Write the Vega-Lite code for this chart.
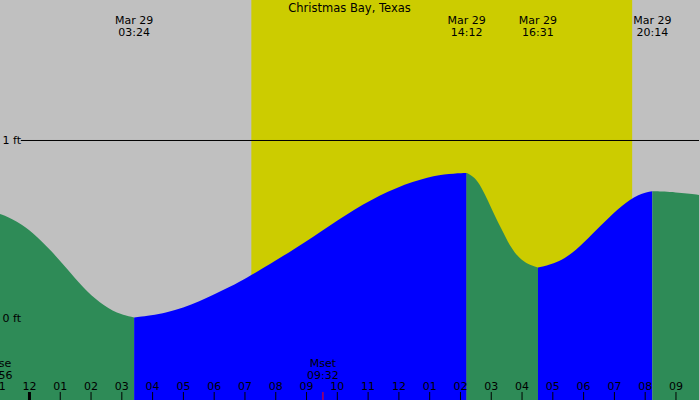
{
  "$schema": "https://vega.github.io/schema/vega-lite/v6.json",
  "width": 700,
  "height": 400,
  "autosize": {"type": "fit", "contains": "padding"},
  "padding": 0,
  "background": "#c0c0c0",
  "config": {"view": {"stroke": null}, "font": "DejaVu Sans"},
  "datasets": {
    "bands": [
      {"start": -1.2, "end": 7.207, "period": "night"},
      {"start": 7.207, "end": 19.585, "period": "day"},
      {"start": 19.585, "end": 22.0, "period": "night"}
    ],
    "tide": [
      {"h": -1.2, "ft": 0.602, "phase": "falling", "seg": 1},
      {"h": -0.957, "ft": 0.588, "phase": "falling", "seg": 1},
      {"h": -0.405, "ft": 0.548, "phase": "falling", "seg": 1},
      {"h": 0.114, "ft": 0.483, "phase": "falling", "seg": 1},
      {"h": 0.665, "ft": 0.388, "phase": "falling", "seg": 1},
      {"h": 1.216, "ft": 0.281, "phase": "falling", "seg": 1},
      {"h": 1.735, "ft": 0.174, "phase": "falling", "seg": 1},
      {"h": 2.287, "ft": 0.087, "phase": "falling", "seg": 1},
      {"h": 2.838, "ft": 0.028, "phase": "falling", "seg": 1},
      {"h": 3.4, "ft": 0.006, "phase": "falling", "seg": 1},
      {"h": 3.4, "ft": 0.006, "phase": "rising", "seg": 2},
      {"h": 4.46, "ft": 0.028, "phase": "rising", "seg": 2},
      {"h": 5.53, "ft": 0.095, "phase": "rising", "seg": 2},
      {"h": 6.5, "ft": 0.176, "phase": "rising", "seg": 2},
      {"h": 7.21, "ft": 0.243, "phase": "rising", "seg": 2},
      {"h": 8.68, "ft": 0.397, "phase": "rising", "seg": 2},
      {"h": 9.75, "ft": 0.522, "phase": "rising", "seg": 2},
      {"h": 10.82, "ft": 0.644, "phase": "rising", "seg": 2},
      {"h": 11.92, "ft": 0.738, "phase": "rising", "seg": 2},
      {"h": 12.99, "ft": 0.798, "phase": "rising", "seg": 2},
      {"h": 13.64, "ft": 0.813, "phase": "rising", "seg": 2},
      {"h": 14.2, "ft": 0.818, "phase": "rising", "seg": 2},
      {"h": 14.2, "ft": 0.818, "phase": "falling", "seg": 3},
      {"h": 14.46, "ft": 0.794, "phase": "falling", "seg": 3},
      {"h": 14.68, "ft": 0.738, "phase": "falling", "seg": 3},
      {"h": 14.89, "ft": 0.663, "phase": "falling", "seg": 3},
      {"h": 15.11, "ft": 0.579, "phase": "falling", "seg": 3},
      {"h": 15.33, "ft": 0.504, "phase": "falling", "seg": 3},
      {"h": 15.54, "ft": 0.429, "phase": "falling", "seg": 3},
      {"h": 15.76, "ft": 0.369, "phase": "falling", "seg": 3},
      {"h": 15.97, "ft": 0.331, "phase": "falling", "seg": 3},
      {"h": 16.19, "ft": 0.305, "phase": "falling", "seg": 3},
      {"h": 16.517, "ft": 0.286, "phase": "falling", "seg": 3},
      {"h": 16.517, "ft": 0.286, "phase": "rising", "seg": 4},
      {"h": 17.21, "ft": 0.316, "phase": "rising", "seg": 4},
      {"h": 17.75, "ft": 0.382, "phase": "rising", "seg": 4},
      {"h": 18.29, "ft": 0.476, "phase": "rising", "seg": 4},
      {"h": 18.83, "ft": 0.569, "phase": "rising", "seg": 4},
      {"h": 19.37, "ft": 0.655, "phase": "rising", "seg": 4},
      {"h": 19.91, "ft": 0.706, "phase": "rising", "seg": 4},
      {"h": 20.233, "ft": 0.715, "phase": "rising", "seg": 4},
      {"h": 20.233, "ft": 0.715, "phase": "falling", "seg": 5},
      {"h": 20.99, "ft": 0.71, "phase": "falling", "seg": 5},
      {"h": 21.748, "ft": 0.695, "phase": "falling", "seg": 5},
      {"h": 22.0, "ft": 0.688, "phase": "falling", "seg": 5}
    ],
    "events": [
      {"h": 3.4, "label": "Mar 29\n03:24"},
      {"h": 14.2, "label": "Mar 29\n14:12"},
      {"h": 16.517, "label": "Mar 29\n16:31"},
      {"h": 20.233, "label": "Mar 29\n20:14"}
    ],
    "moon": [
      {"h": -1.07, "label": "Mrise\n22:56", "kind": "rise"},
      {"h": 9.533, "label": "Mset\n09:32", "kind": "set"}
    ],
    "hours": [
      {"h": -1, "label": "11"}, {"h": 0, "label": "12"}, {"h": 1, "label": "01"},
      {"h": 2, "label": "02"}, {"h": 3, "label": "03"}, {"h": 4, "label": "04"},
      {"h": 5, "label": "05"}, {"h": 6, "label": "06"}, {"h": 7, "label": "07"},
      {"h": 8, "label": "08"}, {"h": 9, "label": "09"}, {"h": 10, "label": "10"},
      {"h": 11, "label": "11"}, {"h": 12, "label": "12"}, {"h": 13, "label": "01"},
      {"h": 14, "label": "02"}, {"h": 15, "label": "03"}, {"h": 16, "label": "04"},
      {"h": 17, "label": "05"}, {"h": 18, "label": "06"}, {"h": 19, "label": "07"},
      {"h": 20, "label": "08"}, {"h": 21, "label": "09"}
    ]
  },
  "layer": [
    {
      "data": {"name": "bands"},
      "mark": {"type": "rect", "clip": true},
      "encoding": {
        "x": {"field": "start", "type": "quantitative", "scale": {"domain": [-0.957, 21.748], "nice": false, "zero": false}, "axis": null},
        "x2": {"field": "end"},
        "color": {"field": "period", "type": "nominal", "scale": {"domain": ["night", "day"], "range": ["#c0c0c0", "#cccc00"]}, "legend": null}
      }
    },
    {
      "data": {"name": "tide"},
      "mark": {"type": "area", "interpolate": "basis", "clip": true},
      "encoding": {
        "x": {"field": "h", "type": "quantitative"},
        "y": {"field": "ft", "type": "quantitative", "scale": {"domain": [-0.4579, 1.7893], "nice": false, "zero": false},
          "axis": {"values": [0, 1], "labelExpr": "datum.value + ' ft'", "domain": false, "ticks": false, "tickSize": 0, "grid": false, "title": null, "labelAlign": "left", "labelBaseline": "middle", "labelPadding": -2, "labelFont": "DejaVu Sans", "labelFontSize": 11, "labelColor": "black", "zindex": 2, "minExtent": 0, "maxExtent": 0}},
        "y2": {"datum": -0.5},
        "color": {"field": "phase", "type": "nominal", "scale": {"domain": ["falling", "rising"], "range": ["#2e8b57", "#0000ff"]}, "legend": null},
        "detail": {"field": "seg", "type": "nominal"}
      }
    },
    {
      "data": {"values": [{"level": 1}]},
      "mark": {"type": "rule", "color": "black", "strokeWidth": 1},
      "encoding": {
        "x": {"datum": -0.28, "type": "quantitative"},
        "x2": {"datum": 21.748},
        "y": {"field": "level", "type": "quantitative"}
      }
    },
    {
      "data": {"name": "hours"},
      "mark": {"type": "rule", "color": "black", "clip": true},
      "encoding": {
        "x": {"field": "h", "type": "quantitative"},
        "y": {"datum": -0.4579, "type": "quantitative"},
        "y2": {"datum": -0.4129},
        "strokeWidth": {"condition": {"test": "datum.h === 0", "value": 3}, "value": 1}
      }
    },
    {
      "data": {"name": "hours"},
      "mark": {"type": "text", "font": "DejaVu Sans", "fontSize": 11, "color": "black", "align": "center", "baseline": "alphabetic", "clip": true},
      "encoding": {
        "x": {"field": "h", "type": "quantitative"},
        "y": {"datum": -0.4045, "type": "quantitative"},
        "text": {"field": "label", "type": "nominal"}
      }
    },
    {
      "data": {"values": [{"name": "Christmas Bay, Texas", "mid": 10.396}]},
      "mark": {"type": "text", "font": "DejaVu Sans", "fontSize": 11.5, "color": "black", "align": "center", "baseline": "alphabetic"},
      "encoding": {
        "x": {"field": "mid", "type": "quantitative"},
        "y": {"datum": 1.722, "type": "quantitative"},
        "text": {"field": "name", "type": "nominal"}
      }
    },
    {
      "data": {"name": "events"},
      "mark": {"type": "text", "font": "DejaVu Sans", "fontSize": 11, "color": "black", "align": "center", "baseline": "alphabetic", "lineBreak": "\n", "lineHeight": 12, "clip": true},
      "encoding": {
        "x": {"field": "h", "type": "quantitative"},
        "y": {"datum": 1.6545, "type": "quantitative"},
        "text": {"field": "label", "type": "nominal"}
      }
    },
    {
      "data": {"name": "moon"},
      "mark": {"type": "text", "font": "DejaVu Sans", "fontSize": 11, "color": "black", "align": "center", "baseline": "alphabetic", "lineBreak": "\n", "lineHeight": 12, "clip": true},
      "encoding": {
        "x": {"field": "h", "type": "quantitative"},
        "y": {"datum": -0.2708, "type": "quantitative"},
        "text": {"field": "label", "type": "nominal"}
      }
    },
    {
      "data": {"name": "moon"},
      "transform": [{"filter": "datum.kind === 'set'"}],
      "mark": {"type": "rule", "color": "red", "strokeWidth": 1, "clip": true},
      "encoding": {
        "x": {"field": "h", "type": "quantitative"},
        "y": {"datum": -0.4579, "type": "quantitative"},
        "y2": {"datum": -0.4129}
      }
    }
  ],
  "resolve": {"scale": {"color": "independent"}}
}
